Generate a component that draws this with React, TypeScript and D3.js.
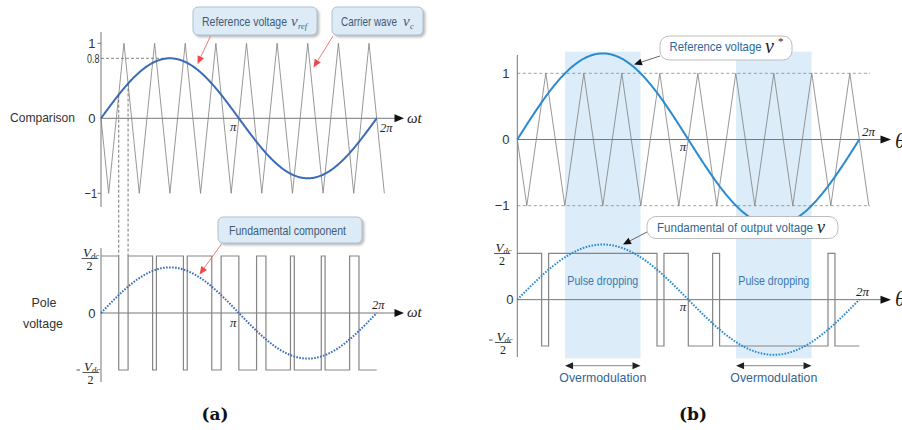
import React from "react";
import * as d3 from "d3";

const TAU = 2 * Math.PI;

// Per-panel PWM settings: (a) linear modulation, (b) overmodulation
const panelNames = ["(a)", "(b)"];
const modulationIndex = [0.8, 1.3];
const fundamentalAmp = [0.8, 1.19];
const carrierCycles = [9, 9];

// Vertical tick values / labels of the comparison plots
const ticksA = [1, 0.8, 0, -1];
const tickLabelsA = ["1", "0.8", "0", "\u22121"];
const ticksB = [1, 0, -1];
const tickLabelsB = ["1", "0", "\u22121"];

const sans = "'Liberation Sans', Arial, Helvetica, sans-serif";
const serif = "'Liberation Serif', 'Times New Roman', serif";
const boldSerif = "'DejaVu Serif', 'Liberation Serif', serif";

// Triangular carrier normalised to [-1, 1]; starts at 0 heading down
function carrier(theta: number, n: number) {
  const phi = (theta * n) / TAU;
  const u = (((phi - 0.25) % 1) + 1) % 1;
  return u < 0.5 ? -1 + 4 * u : 3 - 4 * u;
}

function carrierVertices(n: number) {
  const phis = [0, ...d3.range(0.25, n + 0.26, 0.5)];
  return phis.map((p) => {
    const t = (p * TAU) / n;
    return [t, carrier(t + 1e-12, n) > 0.5 ? 1 : p === 0 ? 0 : -1] as [number, number];
  });
}

// Pole voltage from comparing reference and carrier: list of [theta, level]
function pwmEdges(m: number, n: number) {
  const f = (t: number) => m * Math.sin(t) - carrier(t, n);
  const N = 6000;
  let prev = f(1e-9) > 0 ? 1 : -1;
  const pts: [number, number][] = [[0, prev]];
  for (let i = 1; i <= N; i++) {
    const t = Math.min((TAU * i) / N, TAU - 1e-9);
    const s = f(t) > 0 ? 1 : -1;
    if (s !== prev) {
      let lo = (TAU * (i - 1)) / N;
      let hi = t;
      for (let k = 0; k < 40; k++) {
        const mid = (lo + hi) / 2;
        if ((f(mid) > 0 ? 1 : -1) === prev) lo = mid;
        else hi = mid;
      }
      pts.push([hi, s]);
      prev = s;
    }
  }
  pts.push([TAU, prev]);
  return pts;
}

function Arrow({ x1, y1, x2, y2, color, lineColor, len = 8, half = 3.5, width = 1 }: any) {
  const a = Math.atan2(y2 - y1, x2 - x1);
  const bx = x2 - len * Math.cos(a);
  const by = y2 - len * Math.sin(a);
  const px = -Math.sin(a) * half;
  const py = Math.cos(a) * half;
  return (
    <g>
      <line x1={x1} y1={y1} x2={bx} y2={by} stroke={lineColor ?? color} strokeWidth={width} />
      <polygon points={`${x2},${y2} ${bx + px},${by + py} ${bx - px},${by - py}`} fill={color} />
    </g>
  );
}

function Frac({ x, y, neg, size = 12 }: any) {
  // V_dc over 2, fraction bar at y
  return (
    <g fontFamily={serif} fill="#222">
      {neg && (
        <line x1={x - 6} y1={y - 2.5} x2={x - 2.5} y2={y - 2.5} stroke="#444" strokeWidth={0.9} />
      )}
      <text x={x + 1.5} y={y - 2} fontSize={size + 1} fontStyle="italic">
        V
        <tspan fontSize={size - 3.5} dy={2}>
          dc
        </tspan>
      </text>
      <line x1={x} y1={y} x2={x + 16} y2={y} stroke="#444" strokeWidth={0.9} />
      <text x={x + 8} y={y + 11} fontSize={size} textAnchor="middle">
        2
      </text>
    </g>
  );
}

export default function App() {
  const W = 902;
  const H = 430;

  const mA = modulationIndex[0];
  const mB = modulationIndex[1];
  const nA = carrierCycles[0];
  const nB = carrierCycles[1];

  // Scales, panel (a)
  const xA = d3.scaleLinear([0, TAU], [101, 376.7]);
  const yAt = d3.scaleLinear([-1, 1], [193.3, 43.3]);
  const yAb = d3.scaleLinear([-1, 1], [370, 256]);
  // Scales, panel (b)
  const xB = d3.scaleLinear([0, TAU], [517.3, 859.3]);
  const yBt = d3.scaleLinear([-1, 1], [205.7, 73.3]);
  const yBb = d3.scaleLinear([-1, 1], [346, 253.3]);

  const thetas = d3.range(0, 401).map((i) => (TAU * i) / 400);

  const lineXY = (xs: any, ys: any) =>
    d3.line<[number, number]>().x((d) => xs(d[0])).y((d) => ys(d[1]));

  const carrierA = lineXY(xA, yAt)(carrierVertices(nA));
  const carrierB = lineXY(xB, yBt)(carrierVertices(nB));
  const refA = lineXY(xA, yAt)(thetas.map((t) => [t, mA * Math.sin(t)]));
  const refB = lineXY(xB, yBt)(thetas.map((t) => [t, mB * Math.sin(t)]));
  const fundA = lineXY(xA, yAb)(thetas.map((t) => [t, fundamentalAmp[0] * Math.sin(t)]));
  const fundB = lineXY(xB, yBb)(thetas.map((t) => [t, fundamentalAmp[1] * Math.sin(t)]));

  const step = (xs: any, ys: any) =>
    d3
      .line<[number, number]>()
      .x((d) => xs(d[0]))
      .y((d) => ys(d[1]))
      .curve(d3.curveStepAfter);
  const edgesA = pwmEdges(mA, nA);
  const edgesB = pwmEdges(mB, nB);
  const poleA = step(xA, yAb)(edgesA);
  const poleB = step(xB, yBb)(edgesB);

  // Overmodulation intervals where |v*| exceeds the carrier peak
  const t1 = Math.asin(1 / mB);
  const overRegions = [
    [t1, Math.PI - t1],
    [Math.PI + t1, TAU - t1],
  ];

  const guideThetas = [edgesA[1][0], edgesA[2][0]];

  const carrierStroke = "#7d7d7d";
  const axisStroke = "#777";
  const poleStroke = "#858585";
  const blueA = "#3b6cb7";
  const blueB = "#2a8bd0";
  const red = "#f04848";

  return (
    <svg
      width={W}
      height={H}
      viewBox={`0 0 ${W} ${H}`}
      style={{ position: "absolute", left: 0, top: 0, background: "#fff" }}
    >
      <defs>
        <filter id="shadow" x="-10%" y="-20%" width="130%" height="160%">
          <feDropShadow dx="2" dy="2" stdDeviation="1.3" floodColor="#8a8a8a" floodOpacity="0.55" />
        </filter>
      </defs>
      <rect width={W} height={H} fill="#fff" />

      {/* ================= Panel (a) ================= */}
      <g>
        {/* row titles */}
        <text x={10} y={122} fontFamily={sans} fontSize={13.5} fill="#333" textLength={65} lengthAdjust="spacingAndGlyphs">
          Comparison
        </text>
        <text x={44} y={307} fontFamily={sans} fontSize={13.5} fill="#333" textAnchor="middle" textLength={25} lengthAdjust="spacingAndGlyphs">
          Pole
        </text>
        <text x={43} y={328} fontFamily={sans} fontSize={13.5} fill="#333" textAnchor="middle" textLength={40} lengthAdjust="spacingAndGlyphs">
          voltage
        </text>

        {/* axes top */}
        <line x1={xA(0)} y1={32} x2={xA(0)} y2={207} stroke={axisStroke} strokeWidth={1} />
        <line x1={xA(0)} y1={yAt(0)} x2={395} y2={yAt(0)} stroke={axisStroke} strokeWidth={1} />
        <polygon points={`404,${yAt(0)} 394.5,${yAt(0) - 4} 394.5,${yAt(0) + 4}`} fill="#111" />
        {[1, -1].map((v) => (
          <line key={v} x1={xA(0) - 3.5} y1={yAt(v)} x2={xA(0)} y2={yAt(v)} stroke={axisStroke} />
        ))}
        {ticksA.map((v, i) => (
          <text
            key={v}
            x={v === 0.8 ? 99.5 : v === -1 ? 97 : 95.5}
            y={yAt(v) + 4.5}
            fontFamily={sans}
            fontSize={13}
            fill="#333"
            textAnchor="end"
            textLength={tickLabelsA[i].length > 1 ? 12.5 : undefined}
            lengthAdjust="spacingAndGlyphs"
          >
            {tickLabelsA[i]}
          </text>
        ))}
        {/* peak guide at 0.8 */}
        <line
          x1={xA(0)}
          y1={yAt(mA)}
          x2={xA(Math.PI / 2)}
          y2={yAt(mA)}
          stroke="#666"
          strokeDasharray="3 2"
          strokeWidth={0.8}
        />

        <path d={carrierA ?? ""} fill="none" stroke={carrierStroke} strokeWidth={0.8} />
        <path d={refA ?? ""} fill="none" stroke={blueA} strokeWidth={2} />

        <text x={233.3} y={131} fontFamily={serif} fontStyle="italic" fontSize={13} textAnchor="middle" fill="#222">
          π
        </text>
        <text x={380} y={132} fontFamily={serif} fontStyle="italic" fontSize={12.5} fill="#222">
          2π
        </text>
        <text x={407} y={123} fontFamily={serif} fontStyle="italic" fontSize={15} fill="#222">
          ωt
        </text>

        {/* guide lines from the first crossings */}
        {guideThetas.map((t, i) => (
          <line
            key={i}
            x1={xA(t)}
            y1={yAt(mA * Math.sin(t))}
            x2={xA(t)}
            y2={yAb(1)}
            stroke="#555"
            strokeDasharray="3 2"
            strokeWidth={0.8}
          />
        ))}

        {/* axes bottom */}
        <line x1={xA(0)} y1={248} x2={xA(0)} y2={382} stroke={axisStroke} strokeWidth={1} />
        <line x1={xA(0)} y1={yAb(0)} x2={395} y2={yAb(0)} stroke={axisStroke} strokeWidth={1} />
        <polygon points={`404,${yAb(0)} 394.5,${yAb(0) - 4} 394.5,${yAb(0) + 4}`} fill="#111" />
        <text x={95.5} y={yAb(0) + 4.5} fontFamily={sans} fontSize={13} fill="#333" textAnchor="end">
          0
        </text>
        <Frac x={81.5} y={258.5} />
        <Frac x={82.5} y={372.5} neg />

        <path d={poleA ?? ""} fill="none" stroke={poleStroke} strokeWidth={1.2} />
        <path d={fundA ?? ""} fill="none" stroke={blueA} strokeWidth={2} strokeDasharray="1.6 1.4" />

        <text x={233.3} y={327} fontFamily={serif} fontStyle="italic" fontSize={13} textAnchor="middle" fill="#222">
          π
        </text>
        <text x={372} y={309} fontFamily={serif} fontStyle="italic" fontSize={12.5} fill="#222">
          2π
        </text>
        <text x={407} y={317} fontFamily={serif} fontStyle="italic" fontSize={15} fill="#222">
          ωt
        </text>

        {/* callouts */}
        <g filter="url(#shadow)">
          <rect x={193} y={7} width={124} height={28} rx={5} fill="#dcebf6" stroke="#a3bccd" strokeWidth={0.9} />
          <rect x={332} y={7} width={91} height={28} rx={5} fill="#dcebf6" stroke="#a3bccd" strokeWidth={0.9} />
          <rect x={218} y={217} width={144} height={26} rx={5} fill="#dcebf6" stroke="#a3bccd" strokeWidth={0.9} />
        </g>
        <text x={202} y={25.5} fontFamily={sans} fontSize={13} fill="#3f5b76" textLength={85} lengthAdjust="spacingAndGlyphs">
          Reference voltage
        </text>
        <text x={291} y={25.5} fontFamily={serif} fontStyle="italic" fontSize={15} fill="#3f5b76">
          v
        </text>
        <text x={298} y={28.5} fontFamily={serif} fontStyle="italic" fontSize={8.5} fill="#3f5b76">
          ref
        </text>
        <text x={341} y={25.5} fontFamily={sans} fontSize={13} fill="#3f5b76" textLength={56} lengthAdjust="spacingAndGlyphs">
          Carrier wave
        </text>
        <text x={403} y={25.5} fontFamily={serif} fontStyle="italic" fontSize={15} fill="#3f5b76">
          v
        </text>
        <text x={410} y={28.5} fontFamily={serif} fontStyle="italic" fontSize={8.5} fill="#3f5b76">
          c
        </text>
        <text x={229} y={235} fontFamily={sans} fontSize={13} fill="#3f5b76" textLength={117} lengthAdjust="spacingAndGlyphs">
          Fundamental component
        </text>
        <Arrow x1={210.5} y1={36} x2={197.5} y2={64} color={red} lineColor="#f07a7a" />
        <Arrow x1={333} y1={36} x2={313.5} y2={67.5} color={red} lineColor="#f07a7a" />
        <Arrow x1={221.5} y1={244} x2={199.5} y2={274.5} color={red} lineColor="#f07a7a" />

        <text x={215} y={420} fontFamily={boldSerif} fontWeight="bold" fontSize={17} textAnchor="middle" fill="#111">
          {panelNames[0]}
        </text>
      </g>

      {/* ================= Panel (b) ================= */}
      <g>
        {overRegions.map(([a, b], i) => (
          <rect key={i} x={xB(a)} y={51.7} width={xB(b) - xB(a)} height={358.3 - 51.7} fill="#dcedf9" />
        ))}

        {[1, -1].map((v) => (
          <line
            key={v}
            x1={xB(0)}
            y1={yBt(v)}
            x2={870}
            y2={yBt(v)}
            stroke="#888"
            strokeDasharray="3 2.5"
            strokeWidth={0.8}
          />
        ))}
        <line x1={xB(0)} y1={55} x2={xB(0)} y2={357} stroke={axisStroke} strokeWidth={1} />
        <line x1={xB(0)} y1={yBt(0)} x2={881} y2={yBt(0)} stroke={axisStroke} strokeWidth={1} />
        <polygon points={`891,${yBt(0)} 880.5,${yBt(0) - 4} 880.5,${yBt(0) + 4}`} fill="#111" />
        {ticksB.map((v, i) => (
          <text key={v} x={509.5} y={yBt(v) + 4.5} fontFamily={sans} fontSize={13} fill="#333" textAnchor="end">
            {tickLabelsB[i]}
          </text>
        ))}

        <path d={carrierB ?? ""} fill="none" stroke={carrierStroke} strokeWidth={0.8} />
        <path d={refB ?? ""} fill="none" stroke={blueB} strokeWidth={2} />

        <text x={683} y={151} fontFamily={serif} fontStyle="italic" fontSize={13} textAnchor="middle" fill="#222">
          π
        </text>
        <text x={862} y={136} fontFamily={serif} fontStyle="italic" fontSize={13} fill="#222">
          2π
        </text>
        <text x={895} y={148} fontFamily={serif} fontStyle="italic" fontSize={21} fill="#222">
          θ
        </text>

        {/* bottom */}
        <line x1={xB(0)} y1={yBb(0)} x2={881} y2={yBb(0)} stroke={axisStroke} strokeWidth={1} />
        <polygon points={`891,${yBb(0)} 880.5,${yBb(0) - 4} 880.5,${yBb(0) + 4}`} fill="#111" />
        <text x={513.5} y={yBb(0) + 4.5} fontFamily={sans} fontSize={13} fill="#333" textAnchor="end">
          0
        </text>
        <Frac x={494} y={253.5} />
        <Frac x={495} y={342.5} neg />

        <path d={poleB ?? ""} fill="none" stroke={poleStroke} strokeWidth={1.2} />
        <path d={fundB ?? ""} fill="none" stroke={blueB} strokeWidth={2} strokeDasharray="1.6 1.4" />

        <text x={683} y={311} fontFamily={serif} fontStyle="italic" fontSize={13} textAnchor="middle" fill="#222">
          π
        </text>
        <text x={856} y={296} fontFamily={serif} fontStyle="italic" fontSize={13} fill="#222">
          2π
        </text>
        <text x={895} y={306} fontFamily={serif} fontStyle="italic" fontSize={21} fill="#222">
          θ
        </text>

        {overRegions.map(([a, b], i) => {
          const cx = (xB(a) + xB(b)) / 2;
          return (
            <g key={i}>
              <text x={cx} y={285} fontFamily={sans} fontSize={12.5} fill="#3a78b0" textAnchor="middle" textLength={71} lengthAdjust="spacingAndGlyphs">
                Pulse dropping
              </text>
              <Arrow x1={cx} y1={365.7} x2={xB(a)} y2={365.7} color="#222" lineColor="#888" len={8} half={3.5} />
              <Arrow x1={cx} y1={365.7} x2={xB(b)} y2={365.7} color="#222" lineColor="#888" len={8} half={3.5} />
              <text x={cx} y={382} fontFamily={sans} fontSize={13} fill="#2f6594" textAnchor="middle" textLength={87} lengthAdjust="spacingAndGlyphs">
                Overmodulation
              </text>
            </g>
          );
        })}

        {/* callouts */}
        <rect x={660} y={36} width={132} height={24} rx={9} fill="#fff" stroke="#b5b5b5" strokeWidth={0.9} />
        <text x={669.5} y={51} fontFamily={sans} fontSize={13} fill="#2f6796" textLength={92} lengthAdjust="spacingAndGlyphs">
          Reference voltage
        </text>
        <text x={765} y={53} fontFamily={serif} fontStyle="italic" fontSize={20} fill="#222">
          v
        </text>
        <text x={778} y={45} fontFamily={serif} fontSize={11} fill="#222">
          *
        </text>
        <Arrow x1={660} y1={56} x2={634} y2={64.5} color="#111" lineColor="#666" />

        <rect x={647} y={216.5} width={191} height={22} rx={9} fill="#fff" stroke="#b5b5b5" strokeWidth={0.9} />
        <text x={657} y={231.5} fontFamily={sans} fontSize={13} fill="#2f6796" textLength={156} lengthAdjust="spacingAndGlyphs">
          Fundamental of output voltage
        </text>
        <text x={817} y={233} fontFamily={serif} fontStyle="italic" fontSize={18} fill="#222">
          v
        </text>
        <Arrow x1={647} y1={232} x2={623} y2={244.5} color="#111" lineColor="#666" />

        <text x={693} y={420} fontFamily={boldSerif} fontWeight="bold" fontSize={17} textAnchor="middle" fill="#111">
          {panelNames[1]}
        </text>
      </g>
    </svg>
  );
}
